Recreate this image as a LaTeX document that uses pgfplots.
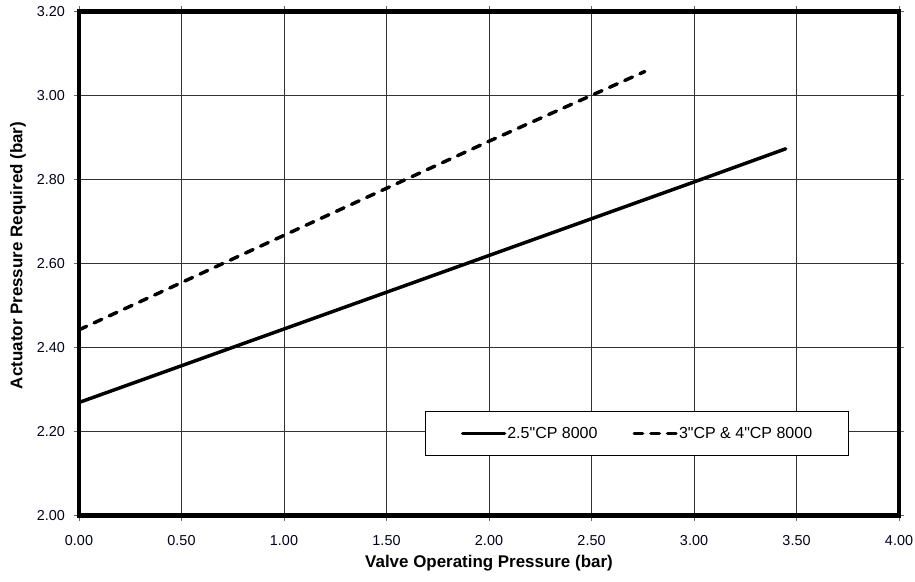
\documentclass[border=0pt]{standalone}
\usepackage{fontspec}
\setmainfont{Liberation Sans}[Ligatures=TeXOff]
\usepackage{pgfplots}
\pgfplotsset{compat=1.18}
\begin{document}
\begin{tikzpicture}
\begin{axis}[
  name=ax,
  scale only axis, width=615pt, height=378pt,
  xmin=0, xmax=4, ymin=2, ymax=3.2,
  xtick={0,0.5,1,1.5,2,2.5,3,3.5,4},
  ytick={2,2.2,2.4,2.6,2.8,3.0,3.2},
  /pgf/number format/assume math mode=true,
  /pgf/number format/.cd, fixed, fixed zerofill, precision=2, /pgfplots/.cd,
  grid=major,
  major grid style={black!80, line width=0.6pt},
  axis line style={line width=3.5pt, line cap=rect},
  tick align=outside, major tick length=4pt,
  tick style={black!60, line width=0.6pt},
  ticklabel style={text=black!85!blue, font=\fontsize{10.8}{12}\selectfont},
  xticklabel style={yshift=-7.5pt},
  yticklabel style={xshift=-3pt},
  label style={font=\bfseries\fontsize{12.7}{14}\selectfont},
  xlabel={Valve Operating Pressure (bar)},
  ylabel={Actuator Pressure Required (bar)},
  xlabel style={at={(axis description cs:0.5,-0.0952)}, anchor=center},
  ylabel style={at={(axis description cs:-0.0744,0.516)}, anchor=center},
  legend columns=2,
  legend style={at={(axis cs:1.688,2.1406)}, anchor=south west,
    draw=black, line width=0.75pt, inner xsep=26.5pt, inner ysep=11pt,
    font=\fontsize{12}{14}\selectfont,
    nodes={inner sep=0.75pt},
    /tikz/every even column/.append style={column sep=25.5pt}},
  legend image code/.code={\draw[#1] (0pt,0pt) -- (31.5pt,0pt);},
]
\addplot[black, line width=2.6pt, line cap=round] coordinates {
  (0,2.269) (1,2.444) (2,2.619) (3,2.794) (3.447,2.873)};
\addlegendentry{2.5"CP 8000}
\addplot[black, line width=2.6pt, line cap=round, dash pattern=on 6.3pt off 6.2pt] coordinates {
  (0,2.442) (1,2.667) (2,2.891) (2.76,3.057)};
\addlegendentry{3"CP \& 4"CP 8000}
\end{axis}
\pgfresetboundingbox
\path ([shift={(-59.25pt,-49.5pt)}]ax.south west) rectangle ([shift={(12pt,8.6pt)}]ax.north east);
\end{tikzpicture}
\end{document}
